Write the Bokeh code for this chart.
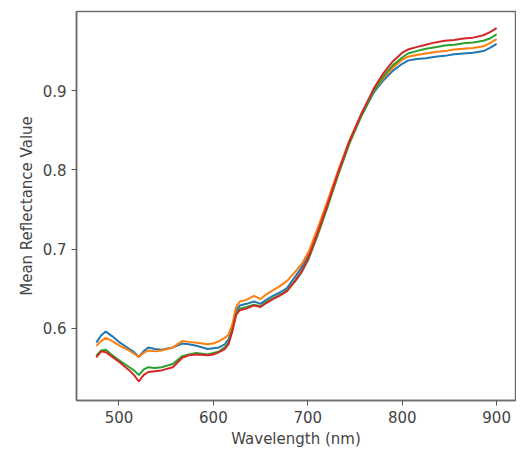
from bokeh.plotting import figure
from bokeh.models import FixedTicker, Range1d
from bokeh.embed import file_html
from bokeh.resources import INLINE

wavelength = [476, 481, 486, 493, 501, 511, 516, 521, 526, 531, 538, 545, 557, 567, 574, 582,
              594, 600, 606, 612, 616, 620, 624, 628, 635, 643, 650, 656, 663, 670, 678, 687,
              694, 701, 710, 720, 732, 744, 756, 770, 780, 790, 800, 806, 815, 825, 835, 845,
              855, 865, 875, 886, 893, 900]

blue = [0.582, 0.591, 0.596, 0.590, 0.582, 0.574, 0.570, 0.564, 0.571, 0.576, 0.574, 0.573,
        0.576, 0.581, 0.580, 0.578, 0.574, 0.575, 0.576, 0.580, 0.586, 0.600, 0.622, 0.629,
        0.631, 0.634, 0.631, 0.636, 0.641, 0.645, 0.651, 0.666, 0.678, 0.694, 0.722, 0.755,
        0.797, 0.835, 0.867, 0.898, 0.913, 0.925, 0.934, 0.938, 0.940, 0.941, 0.943, 0.944,
        0.946, 0.947, 0.948, 0.950, 0.954, 0.959]

orange = [0.578, 0.584, 0.588, 0.584, 0.578, 0.572, 0.568, 0.564, 0.569, 0.572, 0.571, 0.572,
          0.576, 0.584, 0.583, 0.582, 0.580, 0.581, 0.584, 0.588, 0.592, 0.605, 0.627, 0.634,
          0.636, 0.641, 0.637, 0.643, 0.648, 0.653, 0.660, 0.672, 0.682, 0.697, 0.725, 0.758,
          0.799, 0.837, 0.869, 0.900, 0.916, 0.929, 0.939, 0.943, 0.945, 0.947, 0.949, 0.950,
          0.952, 0.953, 0.954, 0.956, 0.960, 0.965]

green = [0.5655, 0.572, 0.573, 0.566, 0.559, 0.551, 0.547, 0.541, 0.548, 0.551, 0.550, 0.551,
         0.555, 0.565, 0.567, 0.569, 0.567, 0.569, 0.571, 0.576, 0.582, 0.597, 0.618, 0.625,
         0.627, 0.630, 0.628, 0.633, 0.638, 0.642, 0.648, 0.660, 0.672, 0.688, 0.716, 0.750,
         0.793, 0.833, 0.866, 0.900, 0.918, 0.932, 0.942, 0.947, 0.950, 0.953, 0.955, 0.957,
         0.958, 0.960, 0.961, 0.963, 0.966, 0.971]

red = [0.5635, 0.571, 0.570, 0.564, 0.557, 0.547, 0.541, 0.533, 0.541, 0.545, 0.546, 0.547,
       0.551, 0.563, 0.566, 0.567, 0.566, 0.567, 0.570, 0.574, 0.580, 0.596, 0.617, 0.623,
       0.625, 0.629, 0.627, 0.632, 0.637, 0.641, 0.647, 0.661, 0.673, 0.690, 0.719, 0.753,
       0.796, 0.836, 0.869, 0.903, 0.922, 0.937, 0.948, 0.952, 0.955, 0.958, 0.961, 0.963,
       0.964, 0.966, 0.967, 0.970, 0.974, 0.979]

series = [blue, orange, green, red]
colors = ["#1f77b4", "#ff7f0e", "#2ca02c", "#d62728"]
x_ticks = [500, 600, 700, 800, 900]
y_ticks = [0.6, 0.7, 0.8, 0.9]

p = figure(width=516, height=450, output_backend="svg", toolbar_location=None,
           x_range=Range1d(455, 920), y_range=Range1d(0.509, 1.0),
           min_border_left=76, min_border_right=1, min_border_top=11, min_border_bottom=40)

for ys, c in zip(series, colors):
    p.line(wavelength, ys, line_color=c, line_width=2)

p.xgrid.visible = False
p.ygrid.visible = False
p.outline_line_color = "#6e6e6e"
p.outline_line_width = 1.5
p.background_fill_color = "white"
p.border_fill_color = "white"

p.xaxis.ticker = FixedTicker(ticks=x_ticks)
p.yaxis.ticker = FixedTicker(ticks=y_ticks)
p.xaxis.axis_label = "Wavelength (nm)"
p.yaxis.axis_label = "Mean Reflectance Value"

for ax in (p.xaxis, p.yaxis):
    ax.axis_line_color = "#6e6e6e"
    ax.axis_line_width = 1.5
    ax.major_tick_line_color = "#555555"
    ax.major_tick_out = 5
    ax.major_tick_in = 0
    ax.minor_tick_line_color = None
    ax.major_label_text_font = "DejaVu Sans"
    ax.major_label_text_font_size = "15px"
    ax.major_label_text_color = "#444444"
    ax.major_label_standoff = 5
    ax.axis_label_text_font = "DejaVu Sans"
    ax.axis_label_text_font_size = "15px"
    ax.axis_label_text_font_style = "normal"
    ax.axis_label_text_color = "#444444"
    ax.axis_label_standoff = 4

open("out.html", "w").write(file_html(p, INLINE))
